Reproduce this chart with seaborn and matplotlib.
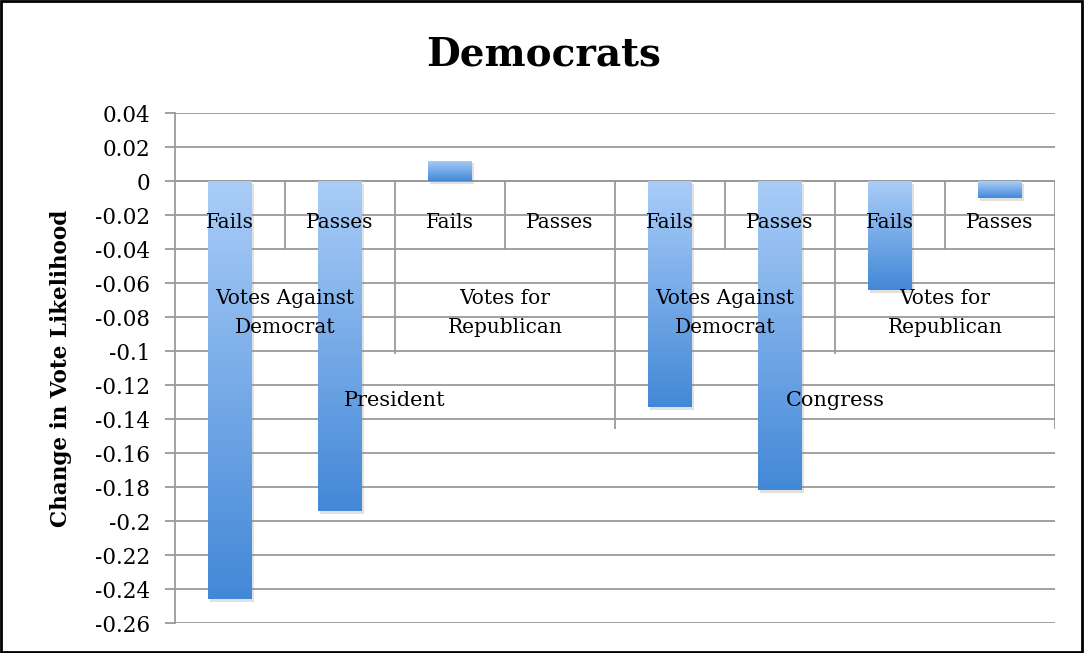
import numpy as np
import pandas as pd
import matplotlib
matplotlib.use("Agg")
import matplotlib.pyplot as plt
import seaborn as sns
from matplotlib import patheffects
from matplotlib.colors import LinearSegmentedColormap
from matplotlib.patches import Rectangle

# Chart data
offices = ["President", "President", "President", "President",
           "Congress", "Congress", "Congress", "Congress"]
vote_types = ["Votes Against\nDemocrat", "Votes Against\nDemocrat",
              "Votes for\nRepublican", "Votes for\nRepublican",
              "Votes Against\nDemocrat", "Votes Against\nDemocrat",
              "Votes for\nRepublican", "Votes for\nRepublican"]
outcomes = ["Fails", "Passes", "Fails", "Passes",
            "Fails", "Passes", "Fails", "Passes"]
change = [-0.246, -0.194, 0.012, 0.0, -0.133, -0.182, -0.064, -0.010]

y_ticks = [0.04, 0.02, 0.0, -0.02, -0.04, -0.06, -0.08, -0.10, -0.12,
           -0.14, -0.16, -0.18, -0.20, -0.22, -0.24, -0.26]

keys = [f"{o}|{v}|{r}" for o, v, r in zip(offices, vote_types, outcomes)]
df = pd.DataFrame({"key": keys, "change": change})

sns.set_theme(style="white")
plt.rcParams["font.family"] = ["DejaVu Serif"]
plt.rcParams["text.color"] = "black"
plt.rcParams["ytick.color"] = "black"
plt.rcParams["axes.labelcolor"] = "black"

GRID = "#9a9a9a"
LW = 1.3
fig = plt.figure(figsize=(10.84, 6.53), dpi=100)
ax = fig.add_axes([175 / 1084, 1 - 623 / 653, 880 / 1084, 510 / 653])

sns.barplot(data=df, x="key", y="change", order=keys, width=0.4,
            color="#6fa6e6", ax=ax, zorder=3)

# vertical gradient fill for each bar, light at top, darker at bottom
cmap = LinearSegmentedColormap.from_list("bar", ["#aacdf8", "#4388d7"])
grad = np.linspace(0, 1, 256).reshape(-1, 1)
for p in list(ax.patches):
    p.set_edgecolor("none")
    p.set_linewidth(0)
    x0, y0 = p.get_x(), p.get_y()
    w, h = p.get_width(), p.get_height()
    if h == 0:
        p.set_visible(False)
        continue
    lo, hi = min(y0, y0 + h), max(y0, y0 + h)
    p.set_path_effects([patheffects.SimplePatchShadow(offset=(1.5, -2),
                                                      shadow_rgbFace="#888888",
                                                      alpha=0.25),
                        patheffects.Normal()])
    im = ax.imshow(grad, cmap=cmap, aspect="auto", origin="upper",
                   extent=(x0, x0 + w, lo, hi), zorder=3.1)
    im.set_clip_path(p)

ax.set_xlim(-0.5, 7.5)
ax.set_ylim(-0.26, 0.04)

def fmt(v):
    if abs(v) < 1e-9:
        return "0"
    return f"{v:.2f}".rstrip("0").rstrip(".")

ax.set_yticks(y_ticks)
ax.set_yticklabels([fmt(v) for v in y_ticks])
ax.yaxis.grid(True, color=GRID, lw=LW, zorder=0)
ax.set_axisbelow(True)
ax.tick_params(axis="y", length=7, width=LW, color=GRID, direction="out",
               labelsize=15.5, pad=11, left=True, labelcolor="black")
ax.tick_params(axis="x", bottom=False, labelbottom=False)
ax.set_xlabel("")
for s in ["top", "right", "bottom"]:
    ax.spines[s].set_visible(False)
ax.spines["left"].set_color(GRID)
ax.spines["left"].set_linewidth(LW)

# horizontal category axis at zero
ax.axhline(0, color=GRID, lw=LW, zorder=2)

# multi-level category labels
L1, L2, L3 = -0.0247, -0.0775, -0.129
for i, r in enumerate(outcomes):
    ax.text(i, L1, r, ha="center", va="center", fontsize=14.5, zorder=5)
for i in range(0, 8, 2):
    ax.text(i + 0.5, L2, vote_types[i], ha="center", va="center",
            fontsize=14.5, linespacing=1.7, zorder=5)
for i in range(0, 8, 4):
    ax.text(i + 1.5, L3, offices[i], ha="center", va="center",
            fontsize=15, zorder=5)

# category separators
sep_depth = {0.5: -0.0406, 2.5: -0.0406, 4.5: -0.0406, 6.5: -0.0406,
             1.5: -0.102, 5.5: -0.102, 3.5: -0.146, 7.5: -0.146}
for xs, d in sep_depth.items():
    ax.plot([xs, xs], [0, d], color=GRID, lw=LW, zorder=2,
            solid_capstyle="butt")

ax.set_ylabel("Change in Vote Likelihood", fontsize=15.5, fontweight="bold")
ax.yaxis.set_label_coords(-0.117, 0.5)

fig.text(0.501, 1 - 55 / 653, "Democrats", ha="center", va="center",
         fontsize=28, fontweight="bold")

fig.add_artist(Rectangle((0.001, 0.002), 0.997, 0.996,
                         transform=fig.transFigure, fill=False,
                         lw=2, edgecolor="black"))

fig.savefig("out.png", dpi=100)
